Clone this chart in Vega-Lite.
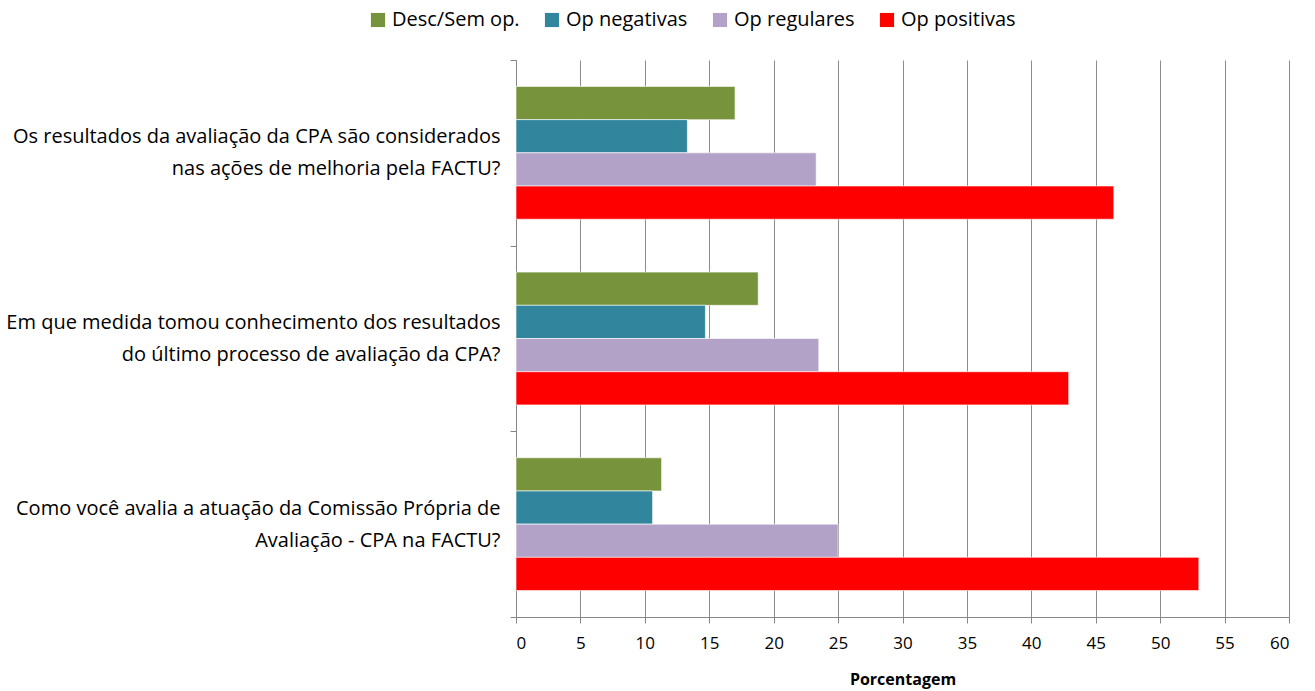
{
  "$schema": "https://vega.github.io/schema/vega-lite/v6.json",
  "width": 773,
  "height": 557,
  "autosize": "none",
  "padding": {"left": 516, "top": 60, "right": 26, "bottom": 74},
  "background": "white",
  "config": {
    "font": "Open Sans, sans-serif",
    "view": {"stroke": null}
  },
  "data": {
    "values": [
      {"q": "Os resultados da avaliação da CPA são considerados|nas ações de melhoria pela FACTU?", "s": "Desc/Sem op.", "v": 17.0},
      {"q": "Os resultados da avaliação da CPA são considerados|nas ações de melhoria pela FACTU?", "s": "Op negativas", "v": 13.3},
      {"q": "Os resultados da avaliação da CPA são considerados|nas ações de melhoria pela FACTU?", "s": "Op regulares", "v": 23.3},
      {"q": "Os resultados da avaliação da CPA são considerados|nas ações de melhoria pela FACTU?", "s": "Op positivas", "v": 46.4},
      {"q": "Em que medida tomou conhecimento dos resultados|do último processo de avaliação da CPA?", "s": "Desc/Sem op.", "v": 18.8},
      {"q": "Em que medida tomou conhecimento dos resultados|do último processo de avaliação da CPA?", "s": "Op negativas", "v": 14.7},
      {"q": "Em que medida tomou conhecimento dos resultados|do último processo de avaliação da CPA?", "s": "Op regulares", "v": 23.5},
      {"q": "Em que medida tomou conhecimento dos resultados|do último processo de avaliação da CPA?", "s": "Op positivas", "v": 42.9},
      {"q": "Como você avalia a atuação da Comissão Própria de|Avaliação - CPA na FACTU?", "s": "Desc/Sem op.", "v": 11.3},
      {"q": "Como você avalia a atuação da Comissão Própria de|Avaliação - CPA na FACTU?", "s": "Op negativas", "v": 10.6},
      {"q": "Como você avalia a atuação da Comissão Própria de|Avaliação - CPA na FACTU?", "s": "Op regulares", "v": 25.0},
      {"q": "Como você avalia a atuação da Comissão Própria de|Avaliação - CPA na FACTU?", "s": "Op positivas", "v": 53.0}
    ]
  },
  "mark": {"type": "bar", "stroke": "white", "strokeWidth": 0.6},
  "encoding": {
    "y": {
      "field": "q",
      "type": "nominal",
      "sort": null,
      "scale": {"paddingInner": 0, "paddingOuter": 0},
      "axis": {
        "title": null,
        "labelExpr": "split(datum.label, '|')",
        "labelFontSize": 20,
        "labelColor": "#000000",
        "labelAlign": "right",
        "labelPadding": 10,
        "labelLineHeight": 32,
        "labelOffset": -16,
        "labelLimit": 520,
        "tickBand": "extent",
        "tickSize": 6,
        "tickColor": "#868686",
        "domainColor": "#868686",
        "grid": false
      }
    },
    "yOffset": {
      "field": "s",
      "type": "nominal",
      "sort": ["Desc/Sem op.", "Op negativas", "Op regulares", "Op positivas"],
      "scale": {"paddingInner": 0, "paddingOuter": 0.797}
    },
    "x": {
      "field": "v",
      "type": "quantitative",
      "scale": {"domain": [0, 60], "nice": false},
      "axis": {
        "title": "Porcentagem",
        "titleFontSize": 16,
        "titleFontWeight": "bold",
        "titleColor": "#000000",
        "titlePadding": 20,
        "values": [0, 5, 10, 15, 20, 25, 30, 35, 40, 45, 50, 55, 60],
        "labelFontSize": 17,
        "labelColor": "#000000",
        "labelPadding": 12,
        "tickSize": 6,
        "tickColor": "#868686",
        "domainColor": "#868686",
        "grid": true,
        "gridColor": "#8c8c8c",
        "gridWidth": 1
      }
    },
    "color": {
      "field": "s",
      "type": "nominal",
      "sort": ["Desc/Sem op.", "Op negativas", "Op regulares", "Op positivas"],
      "scale": {
        "domain": ["Desc/Sem op.", "Op negativas", "Op regulares", "Op positivas"],
        "range": ["#77933C", "#31859C", "#B3A2C7", "#FF0000"]
      },
      "legend": {
        "title": null,
        "orient": "none",
        "direction": "horizontal",
        "legendX": -148,
        "legendY": -50,
        "symbolType": "square",
        "symbolSize": 200,
        "symbolStrokeWidth": 0,
        "labelFontSize": 20,
        "labelColor": "#000000",
        "labelOffset": 4,
        "columnPadding": 22
      }
    }
  }
}
